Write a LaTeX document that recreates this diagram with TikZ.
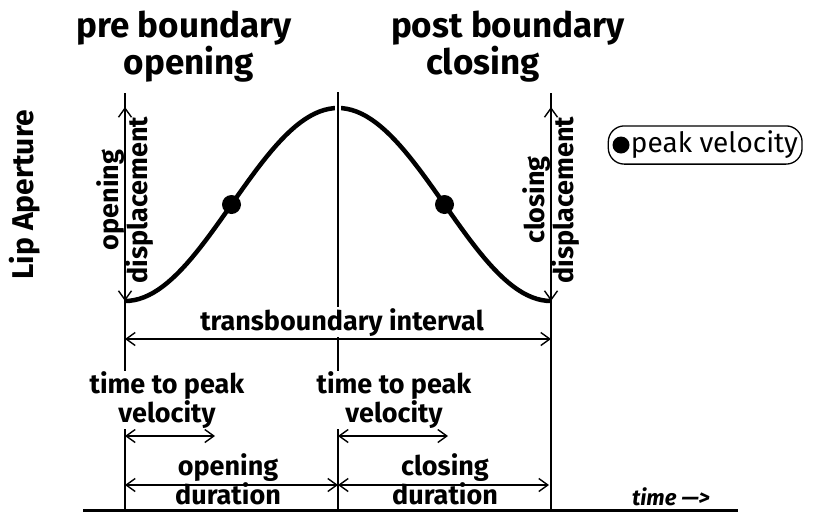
\documentclass[tikz,border=0pt]{standalone}
\usepackage{fontspec}
\setmainfont{Fira Sans}
\usetikzlibrary{positioning, arrows.meta, fit}

\begin{document}
\begin{tikzpicture}[x=1pt, y=-1pt,
  lbl/.style={font=\bfseries\fontsize{27}{27}\selectfont, align=center, inner sep=1pt},
  ttl/.style={font=\bfseries\fontsize{35}{37}\selectfont, inner sep=0pt, anchor=base},
  dim/.style={{Straight Barb[length=9pt,width=13pt]}-{Straight Barb[length=9pt,width=13pt]}, line width=1.4pt},
  vline/.style={line width=1.3pt},
  pv/.style={circle, fill=black, inner sep=0pt, minimum size=19pt}]
  \useasboundingbox (0,0) rectangle (814,512);
  \coordinate (lt) at (125,93);  \coordinate (lb) at (125,510);
  \coordinate (mt) at (338,92);  \coordinate (mb) at (338,510);
  \coordinate (rt) at (551,93);  \coordinate (rb) at (551,510);
  \coordinate (bl) at (83,510);  \coordinate (br) at (738,510);
  \coordinate (c0) at (125,301); \coordinate (c2) at (551,301);
  \coordinate (la) at (125,107); \coordinate (ra) at (551,107);
  \coordinate (mg) at (338,122);
  \draw[line width=3pt] (bl) -- (br);
  \draw[vline] (lt) -- (lb);
  \draw[vline] (rt) -- (rb);
  \draw[line width=4.5pt] plot[domain=0:360, samples=91] ({125+1.18333*\x}, {301-96.5*(1-cos(\x))});
  \node[pv] (pv1) at (231.5,204.5) {};
  \node[pv] (pv2) at (444.5,204.5) {};
  \draw[vline, preaction={draw=white, line width=6pt}] (mt) -- (mg);
  \draw[vline] (mt) -- (mb);
  \draw[dim] (la) -- (c0);
  \draw[dim] (ra) -- (c2);
  \coordinate (ti0) at (125,339); \coordinate (ti1) at (551,339);
  \coordinate (tp0) at (125,436); \coordinate (tp1) at (215,436);
  \coordinate (tp2) at (338,436); \coordinate (tp3) at (448,436);
  \coordinate (du0) at (125,485); \coordinate (du1) at (338,485); \coordinate (du2) at (549,485);
  \draw[dim] (ti0) -- (ti1);
  \draw[dim] (tp0) -- (tp1);
  \draw[dim] (tp2) -- (tp3);
  \draw[dim] (du0) -- (du1);
  \draw[dim] (du1) -- (du2);
  \node[ttl] (pre1) at (184,37) {pre boundary};
  \node[ttl] (pre2) at (189,74) {opening};
  \node[ttl] (post1) at (508,37) {post boundary};
  \node[ttl] (post2) at (483,74) {closing};
  \node[font=\bfseries\fontsize{30}{32}\selectfont, rotate=90] (lipap) at (25,195) {Lip Aperture};
  \node[lbl, rotate=90] (opdisp) at (125,200) {opening\\displacement};
  \node[lbl, rotate=90] (cldisp) at (551,200) {closing\\displacement};
  \node[lbl, fill=white, anchor=base] (trans) at (342,330) {transboundary interval};
  \node[lbl, fill=white] (ttp1) at (167,400) {time to peak\\velocity};
  \node[lbl, fill=white] (ttp2) at (394,400) {time to peak\\velocity};
  \node[lbl] (opdur) at (228,479) {opening\\duration};
  \node[lbl] (cldur) at (445,479) {closing\\duration};
  \node[font=\bfseries\itshape\fontsize{22}{24}\selectfont, anchor=base] (time) at (671,505) {time —>};
  \node[pv, minimum size=17pt] (legdot) at (621,145) {};
  \node[font=\fontsize{28}{29}\selectfont, inner sep=0pt, right=1pt of legdot] (legtxt) {peak velocity};
  \node[draw, line width=1.3pt, rounded corners=16pt, inner xsep=4pt, inner ysep=5pt, fit=(legdot)(legtxt)] (legend) {};
\end{tikzpicture}
\end{document}
